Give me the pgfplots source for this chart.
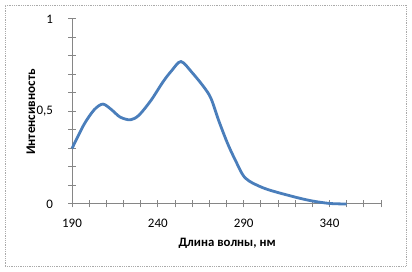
\documentclass[border=0pt]{standalone}
\usepackage{fontspec}
\setmainfont{Carlito}
\usepackage{pgfplots}
\pgfplotsset{compat=1.18}
\definecolor{exblue}{RGB}{74,126,187}
\definecolor{axgray}{RGB}{134,134,134}
\begin{document}
\begin{tikzpicture}
\path[use as bounding box] (0,0) rectangle (412pt,272pt);
\draw[axgray!70, densely dotted, line width=0.8pt] (5pt,6pt) rectangle (406pt,267pt);
\begin{axis}[
  at={(72pt,68pt)}, anchor=south west,
  scale only axis, width=309pt, height=185pt,
  xmin=190, xmax=370, ymin=0, ymax=1,
  axis x line*=bottom, axis y line*=left,
  axis line style={axgray, line width=1pt, -},
  xtick={190,240,290,340}, minor xtick={200,210,220,230,250,260,270,280,300,310,320,330,350,360,370},
  ytick={0,0.5,1}, minor ytick={0.1,0.2,0.3,0.4,0.6,0.7,0.8,0.9},
  xtick pos=bottom, ytick pos=left,
  xtick align=center, ytick align=center,
  major tick length=7pt, minor tick length=7pt,
  every tick/.append style={draw=axgray, line width=1pt},
  every minor tick/.append style={draw=axgray, line width=1pt},
  tick label style={font=\fontsize{13pt}{15pt}\selectfont},
  /pgf/number format/assume math mode=true,
  /pgf/number format/use comma,
  xticklabel style={yshift=-8pt},
  yticklabel style={anchor=east, xshift=-12pt},
  xlabel={\textbf{Длина волны, нм}},
  ylabel={\textbf{Интенсивность}},
  xlabel style={font=\fontsize{12.8pt}{14pt}\selectfont, at={(axis description cs:0.502,-0.211)}, anchor=center},
  ylabel style={font=\fontsize{13.2pt}{15pt}\selectfont, at={(axis description cs:-0.133,0.497)}, anchor=center},
  clip=false,
]
\addplot[exblue, line width=2.8pt, smooth, tension=0.5] coordinates {
(190,0.30) (197,0.43) (203,0.51) (208,0.54) (213,0.51) (218,0.47) (224,0.455)
(229,0.48) (236,0.56) (243,0.66) (248,0.72) (253.5,0.77) (260,0.71) (267,0.63)
(271,0.57) (275.5,0.45) (280.5,0.33) (285,0.24) (291,0.14) (302,0.085)
(317.6,0.043) (329,0.018) (340,0.003) (350,0.0)
};
\end{axis}
\end{tikzpicture}
\end{document}
